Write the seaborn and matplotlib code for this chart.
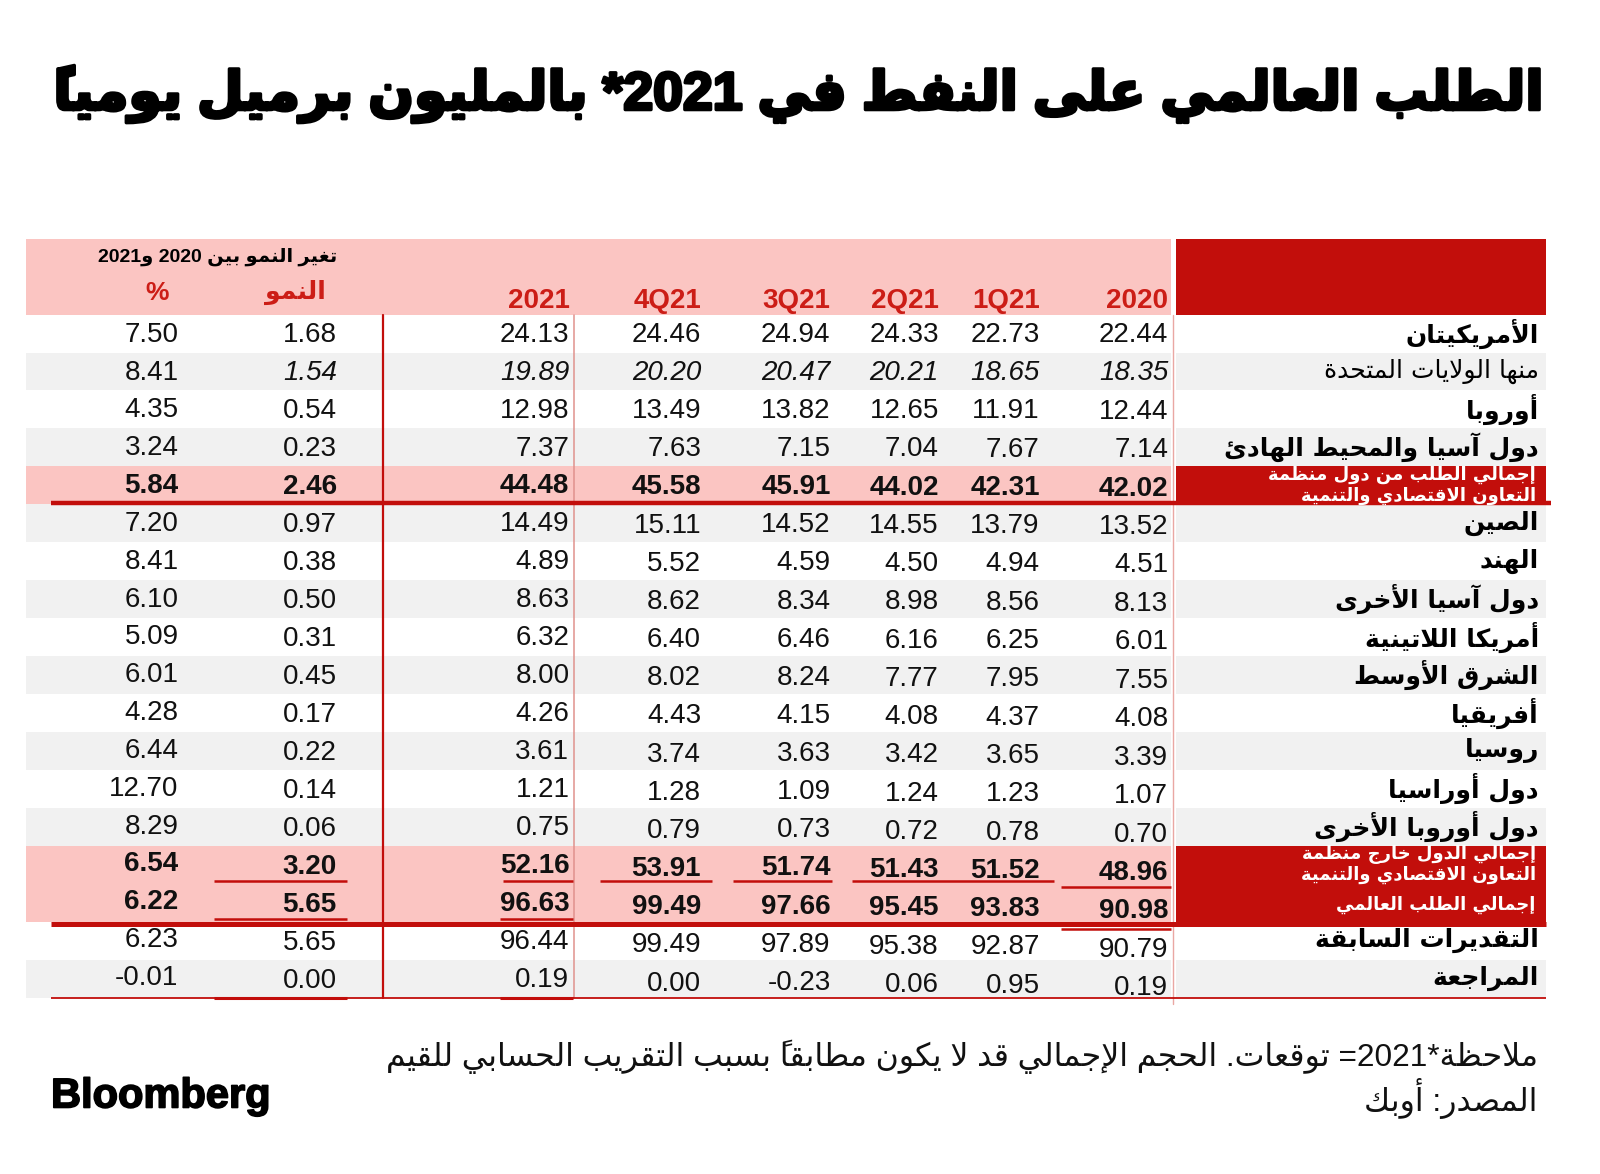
import matplotlib
matplotlib.use("Agg")
import numpy as np
import pandas as pd
import matplotlib.pyplot as plt
from matplotlib.colors import ListedColormap
import matplotlib.patheffects as pe
import seaborn as sns

# ------------------------------------------------------------------ data
title = "الطلب العالمي على النفط في 2021* بالمليون برميل يومياً"
regions = [
    "الأمريكيتان",
    "منها الولايات المتحدة",
    "أوروبا",
    "دول آسيا والمحيط الهادئ",
    "إجمالي الطلب من دول منظمة\nالتعاون الاقتصادي والتنمية",
    "الصين",
    "الهند",
    "دول آسيا الأخرى",
    "أمريكا اللاتينية",
    "الشرق الأوسط",
    "أفريقيا",
    "روسيا",
    "دول أوراسيا",
    "دول أوروبا الأخرى",
    "إجمالي الدول خارج منظمة\nالتعاون الاقتصادي والتنمية",
    "إجمالي الطلب العالمي",
    "التقديرات السابقة",
    "المراجعة",
]
period_labels = ["2020", "1Q21", "2Q21", "3Q21", "4Q21", "2021"]
growth_header = "تغير النمو بين 2020 و2021"
growth_label = "النمو"
pct_label = "%"

v2020 = [22.44, 18.35, 12.44, 7.14, 42.02, 13.52, 4.51, 8.13, 6.01, 7.55, 4.08, 3.39, 1.07, 0.70, 48.96, 90.98, 90.79, 0.19]
v1q21 = [22.73, 18.65, 11.91, 7.67, 42.31, 13.79, 4.94, 8.56, 6.25, 7.95, 4.37, 3.65, 1.23, 0.78, 51.52, 93.83, 92.87, 0.95]
v2q21 = [24.33, 20.21, 12.65, 7.04, 44.02, 14.55, 4.50, 8.98, 6.16, 7.77, 4.08, 3.42, 1.24, 0.72, 51.43, 95.45, 95.38, 0.06]
v3q21 = [24.94, 20.47, 13.82, 7.15, 45.91, 14.52, 4.59, 8.34, 6.46, 8.24, 4.15, 3.63, 1.09, 0.73, 51.74, 97.66, 97.89, -0.23]
v4q21 = [24.46, 20.20, 13.49, 7.63, 45.58, 15.11, 5.52, 8.62, 6.40, 8.02, 4.43, 3.74, 1.28, 0.79, 53.91, 99.49, 99.49, 0.00]
v2021 = [24.13, 19.89, 12.98, 7.37, 44.48, 14.49, 4.89, 8.63, 6.32, 8.00, 4.26, 3.61, 1.21, 0.75, 52.16, 96.63, 96.44, 0.19]
growth = [1.68, 1.54, 0.54, 0.23, 2.46, 0.97, 0.38, 0.50, 0.31, 0.45, 0.17, 0.22, 0.14, 0.06, 3.20, 5.65, 5.65, 0.00]
growth_pct = [7.50, 8.41, 4.35, 3.24, 5.84, 7.20, 8.41, 6.10, 5.09, 6.01, 4.28, 6.44, 12.70, 8.29, 6.54, 6.22, 6.23, -0.01]

note_line1 = "ملاحظة*2021= توقعات. الحجم الإجمالي قد لا يكون مطابقاً بسبب التقريب الحسابي للقيم"
note_line2 = "المصدر: أوبك"
brand = "Bloomberg"

# ------------------------------------------------------------------ arabic shaping (presentation forms) + simple bidi
DUAL = {'\u0626': 0xFE89, '\u0628': 0xFE8F, '\u062A': 0xFE95, '\u062B': 0xFE99, '\u062C': 0xFE9D,
        '\u062D': 0xFEA1, '\u062E': 0xFEA5, '\u0633': 0xFEB1, '\u0634': 0xFEB5, '\u0635': 0xFEB9,
        '\u0636': 0xFEBD, '\u0637': 0xFEC1, '\u0638': 0xFEC5, '\u0639': 0xFEC9, '\u063A': 0xFECD,
        '\u0641': 0xFED1, '\u0642': 0xFED5, '\u0643': 0xFED9, '\u0644': 0xFEDD, '\u0645': 0xFEE1,
        '\u0646': 0xFEE5, '\u0647': 0xFEE9, '\u064A': 0xFEF1}
RIGHT = {'\u0622': 0xFE81, '\u0623': 0xFE83, '\u0624': 0xFE85, '\u0625': 0xFE87, '\u0627': 0xFE8D,
         '\u0629': 0xFE93, '\u062F': 0xFEA9, '\u0630': 0xFEAB, '\u0631': 0xFEAD, '\u0632': 0xFEAF,
         '\u0648': 0xFEED, '\u0649': 0xFEEF}
NONJ = {'\u0621': 0xFE80}
LAMALEF = {'\u0622': 0xFEF5, '\u0623': 0xFEF7, '\u0625': 0xFEF9, '\u0627': 0xFEFB}


def is_mark(c):
    o = ord(c)
    return 0x064B <= o <= 0x0652 or o == 0x0670


def ar(text):
    units = []
    i = 0
    while i < len(text):
        ch = text[i]
        if is_mark(ch) and units:
            units[-1][1] += ch
            i += 1
            continue
        if ch == '\u0644':
            j = i + 1
            mk = ''
            while j < len(text) and is_mark(text[j]):
                mk += text[j]
                j += 1
            if j < len(text) and text[j] in LAMALEF:
                units.append([chr(LAMALEF[text[j]]), mk, 'LA'])
                i = j + 1
                continue
        if ch in DUAL:
            units.append([ch, '', 'D'])
        elif ch in RIGHT:
            units.append([ch, '', 'R'])
        elif ch in NONJ:
            units.append([ch, '', 'N'])
        else:
            units.append([ch, '', 'X'])
        i += 1
    out = []
    for k, (base, mk, t) in enumerate(units):
        if t in ('D', 'R', 'LA'):
            prev = k > 0 and units[k - 1][2] == 'D'
            nxt = t == 'D' and k + 1 < len(units) and units[k + 1][2] in ('D', 'R', 'LA')
            if t == 'LA':
                g = chr(ord(base) + (1 if prev else 0))
            elif t == 'R':
                g = chr(RIGHT[base] + (1 if prev else 0))
            else:
                off = 3 if (prev and nxt) else 1 if prev else 2 if nxt else 0
                g = chr(DUAL[base] + off)
        elif t == 'N':
            g = chr(NONJ[base])
        else:
            g = base
        # zero-width marks extend to the right of the pen: put them before the base
        out.append((mk + g, t == 'X' and base.isdigit()))
    runs = []
    for s, isd in out:
        if runs and runs[-1][0] == isd:
            runs[-1][1].append(s)
        else:
            runs.append([isd, [s]])
    vis = []
    for isd, lst in reversed(runs):
        vis.append(''.join(lst) if isd else ''.join(reversed(lst)))
    return ''.join(vis)


# ------------------------------------------------------------------ style
sns.set_theme(style="white")
NUMF = ["Liberation Sans", "DejaVu Sans"]
ARF = ["DejaVu Sans"]
plt.rcParams["font.family"] = NUMF

RED = "#c20e0b"
PINK = "#fbc5c2"
GREY = "#f1f1f1"
HRED = "#cc1d16"

W, H = 1568, 1151          # layout units (scaled view of 1600x1174)
fig = plt.figure(figsize=(16, 11.74), dpi=100)
fig.patch.set_facecolor("white")

TOP = 234.0
PITCH = 37.2
n = len(regions)
BOTTOM = TOP + (n + 2) * PITCH


def fr(x0, x1, y0, y1):
    return [x0 / W, 1 - y1 / H, (x1 - x0) / W, (y1 - y0) / H]


# row background kinds: 0 white, 1 grey, 2 pink (totals) ; 3 red (label cells)
total_rows = [4, 14, 15]
kinds = [2 if i in total_rows else (i % 2) for i in range(n)]
data_bg = pd.DataFrame({"bg": [2, 2] + kinds})
label_bg = pd.DataFrame({"bg": [3, 3] + [3 if k == 2 else k for k in kinds]})
cmap = ListedColormap(["#ffffff", GREY, PINK, RED])

ax_d = fig.add_axes(fr(25, 1148, TOP, BOTTOM))
sns.heatmap(data_bg, ax=ax_d, cmap=cmap, vmin=-0.5, vmax=3.5, cbar=False,
            xticklabels=False, yticklabels=False, linewidths=0)
ax_l = fig.add_axes(fr(1152, 1515, TOP, BOTTOM))
sns.heatmap(label_bg, ax=ax_l, cmap=cmap, vmin=-0.5, vmax=3.5, cbar=False,
            xticklabels=False, yticklabels=False, linewidths=0)
for a in (ax_d, ax_l):
    a.set_axis_off()

ax = fig.add_axes([0, 0, 1, 1])
ax.set_xlim(0, W)
ax.set_ylim(H, 0)
ax.set_axis_off()
ax.patch.set_alpha(0)


def rowc(i):
    return TOP + (2 + i + 0.5) * PITCH


# ------------------------------------------------------------------ title
t = ax.text(1515, 92, ar(title), ha="right", va="center", fontsize=44,
            fontweight="bold", family=NUMF + ARF, color="black",
            path_effects=[pe.withStroke(linewidth=2.4, foreground="black")])
fig.canvas.draw()
bb = t.get_window_extent()
t.set_fontsize(44 * (1460 * 1600 / W) / bb.width)

# ------------------------------------------------------------------ header
ax.text(213, 252, ar(growth_header), ha="center", va="center", fontsize=14,
        fontweight="bold", family=NUMF + ARF, color="black")
ax.text(290, 287, ar(growth_label), ha="center", va="center", fontsize=18,
        fontweight="bold", family=ARF, color=HRED)
ax.text(154, 287, pct_label, ha="center", va="center", fontsize=19,
        fontweight="bold", family=NUMF, color=HRED)

col_x = [1145, 1019, 920, 814, 687, 558]
col_drift = [0.5, 0.35, 0.3, 0.18, 0.22, 0.0]
series = [v2020, v1q21, v2q21, v3q21, v4q21, v2021]
for lab, x in zip(period_labels, col_x):
    ax.text(x, 302, lab, ha="right", va="baseline", fontsize=20,
            fontweight="bold", color=HRED, family=NUMF)

# (x, values, drift, italic allowed in the "of which US" row)
cols = [(x, v, d, True) for x, v, d in zip(col_x, series, col_drift)]
cols += [(330, growth, 0.1, True), (175, growth_pct, -0.1, False)]

# ------------------------------------------------------------------ numbers
for i in range(n):
    yc = rowc(i)
    bold = i in total_rows
    for x, vals, dr, it in cols:
        ital = (i == 1) and it
        ax.text(x, yc + 8 + dr * i, f"{vals[i]:.2f}", ha="right", va="baseline",
                fontsize=20, fontweight="bold" if bold else "normal",
                fontstyle="italic" if ital else "normal", color="#111111",
                family=NUMF)

# ------------------------------------------------------------------ row labels
for i, lab in enumerate(regions):
    yc = rowc(i)
    if i in total_rows:
        lines = lab.split("\n")
        if len(lines) == 2:
            ys = [yc - 10, yc + 10]
        else:
            ys = [yc + 2]
        for ln, yy in zip(lines, ys):
            ax.text(1505, yy, ar(ln), ha="right", va="center", fontsize=13,
                    fontweight="bold", color="white", family=ARF)
    else:
        ax.text(1508, yc, ar(lab), ha="right", va="center", fontsize=18,
                fontweight="normal" if i == 1 else "bold", color="black",
                family=ARF)

# ------------------------------------------------------------------ rules
ax.plot([375, 375], [TOP + 2 * PITCH, BOTTOM], color=RED, lw=1.6)
ax.plot([563, 563], [TOP + 2 * PITCH, BOTTOM], color="#e0928d", lw=1.1)
ax.plot([1150, 1150], [TOP + 2 * PITCH, BOTTOM + 6], color="#eaa7a3", lw=1.0)
ax.plot([50, 1520], [rowc(4) + 17, rowc(4) + 17], color=RED, lw=3.2, solid_capstyle="butt")
ax.plot([50, 1515], [rowc(15) + 21, rowc(15) + 21], color=RED, lw=3.6, solid_capstyle="butt")
ax.plot([50, 1515], [BOTTOM, BOTTOM], color=RED, lw=1.3, solid_capstyle="butt")
seg_y1 = rowc(14) + 16
for x0, x1 in [(210, 340), (493, 562), (588, 698), (718, 815), (835, 1033)]:
    ax.plot([x0, x1], [seg_y1, seg_y1], color=RED, lw=1.8, solid_capstyle="butt")
ax.plot([1040, 1148], [seg_y1 + 6, seg_y1 + 6], color=RED, lw=1.8, solid_capstyle="butt")
for x0, x1 in [(210, 340), (490, 562)]:
    ax.plot([x0, x1], [rowc(15) + 16, rowc(15) + 16], color=RED, lw=1.8, solid_capstyle="butt")
    ax.plot([x0, x1], [BOTTOM, BOTTOM], color=RED, lw=2.2, solid_capstyle="butt")
ax.plot([1040, 1148], [rowc(16) - 11, rowc(16) - 11], color=RED, lw=1.8, solid_capstyle="butt")

# ------------------------------------------------------------------ footer
f1 = ax.text(1507, 1036, ar(note_line1), ha="right", va="center", fontsize=19,
             family=NUMF + ARF, color="#111111")
fig.canvas.draw()
bb = f1.get_window_extent()
f1.set_fontsize(19 * (1131 * 1600 / W) / bb.width)
ax.text(1507, 1077, ar(note_line2), ha="right", va="center",
        fontsize=f1.get_fontsize(), family=NUMF + ARF, color="#111111")
b = ax.text(50, 1075, brand, ha="left", va="center", fontsize=30,
            fontweight="bold", family=NUMF, color="black",
            path_effects=[pe.withStroke(linewidth=1.2, foreground="black")])
fig.canvas.draw()
bb = b.get_window_extent()
b.set_fontsize(30 * (215 * 1600 / W) / bb.width)

fig.savefig("out.png", dpi=100, facecolor="white")
